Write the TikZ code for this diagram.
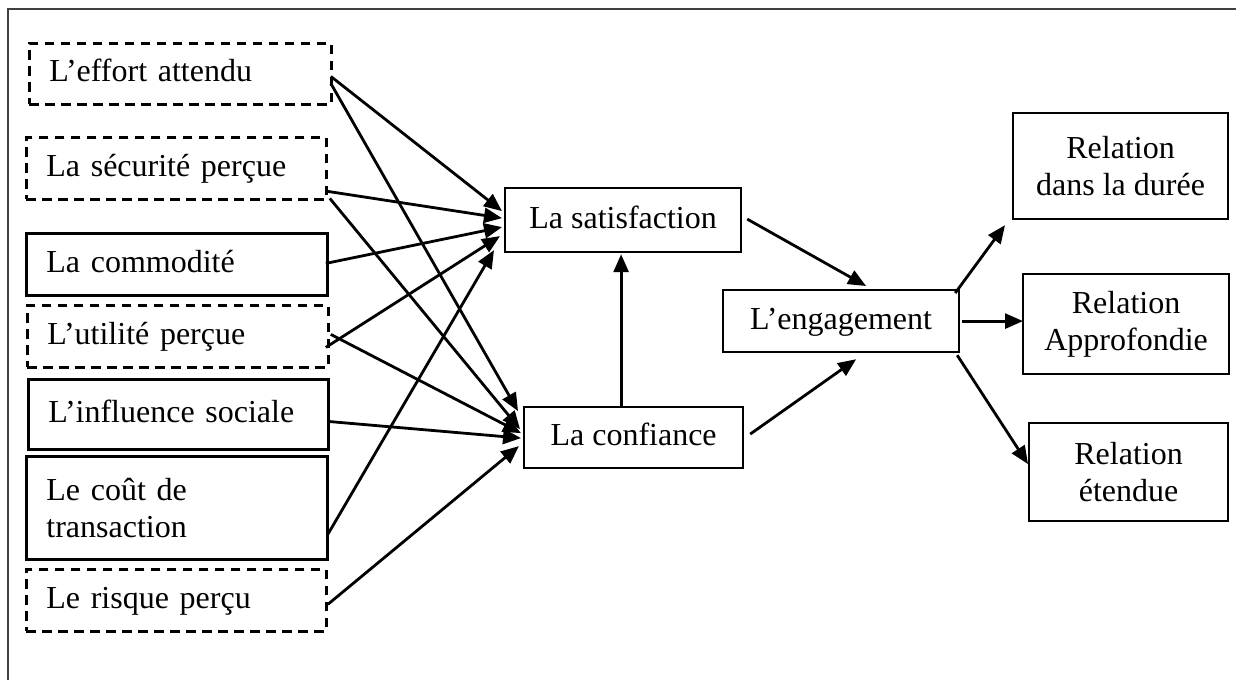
\documentclass[tikz,border=0pt]{standalone}
\usepackage{fontspec}
\setmainfont{Liberation Serif}
\usetikzlibrary{calc,arrows.meta}
\begin{document}
\begin{tikzpicture}[x=0.5pt,y=-0.5pt,
  font=\fontsize{16pt}{18.5pt}\selectfont,
  lbox/.style={draw, line width=1.4pt, anchor=north west, align=left,
    inner xsep=10pt, inner ysep=0pt},
  onel/.style={text height=12pt, text depth=4pt},
  dbox/.style={lbox, onel, dash pattern=on 4.75pt off 3.25pt},
  sbox/.style={lbox, onel},
  mbox/.style={draw, line width=1.1pt, anchor=north west, align=center,
    inner sep=0pt, text height=12pt, text depth=4pt},
  rbox/.style={draw, line width=1.1pt, anchor=north west, align=center,
    inner sep=0pt},
  arr/.style={line width=1.4pt, -{Triangle[length=9pt,width=7.5pt]}}
]
\useasboundingbox (0,0) rectangle (1236,680);
\draw[line width=0.9pt, black!75] (8,680) -- (8,9) -- (1236,9);

% left boxes
\node[dbox, text width=131pt, minimum height=30.5pt] (effort) at (28,42) {L’effort attendu};
\node[dbox, text width=130pt, minimum height=31pt] (securite) at (25,136) {La sécurité perçue};
\node[sbox, text width=130.5pt, minimum height=31pt] (commodite) at (25,232) {La commodité};
\node[dbox, text width=130.5pt, minimum height=31pt] (utilite) at (26,304) {L’utilité perçue};
\node[sbox, text width=130pt, minimum height=35pt] (influence) at (27,378) {L’influence sociale};
\node[lbox, text width=130.5pt, minimum height=51.5pt] (cout) at (25,455) {Le coût de\\transaction};
\node[dbox, text width=130pt, minimum height=31pt] (risque) at (25,568) {Le risque perçu};

% middle boxes
\node[mbox, minimum width=118pt, minimum height=32pt] (sat) at (504,187) {La satisfaction};
\node[mbox, minimum width=109.5pt, minimum height=30.5pt] (conf) at (523,406) {La confiance};
\node[mbox, minimum width=118pt, minimum height=31pt] (eng) at (722,289) {L’engagement};

% right boxes
\node[rbox, minimum width=107.5pt, minimum height=53pt] (duree) at (1012,112) {Relation\\dans la durée};
\node[rbox, minimum width=103pt, minimum height=50pt] (approf) at (1022,273) {Relation\\Approfondie};
\node[rbox, minimum width=99.5pt, minimum height=49pt] (etendue) at (1028,422) {Relation\\étendue};

% arrows into satisfaction / confiance
\draw[arr] ($(effort.east)+(-2,2.5)$) -- ($(sat.west)+(-2,-9)$);
\draw[arr] ($(effort.east)+(-2,9.5)$) -- ($(conf.west)+(-5,-26.5)$);
\draw[arr] ($(securite.east)+(0,23)$) -- ($(sat.west)+(-2,-2)$);
\draw[arr] ($(securite.east)+(2,30)$) -- ($(conf.west)+(-3,-8.5)$);
\draw[arr] ($(commodite.east)+(-3,-1)$) -- ($(sat.west)+(-2,7)$);
\draw[arr] ($(utilite.east)+(-4,11)$) -- ($(sat.west)+(-4,16)$);
\draw[arr] ($(utilite.east)+(1,-2)$) -- ($(conf.west)+(-2,-4.5)$);
\draw[arr] ($(influence.east)+(-2,7)$) -- ($(conf.west)+(-2,0.5)$);
\draw[arr] ($(cout.east)+(-1,26.5)$) -- ($(sat.west)+(-10,30)$);
\draw[arr] ($(risque.east)+(0,4)$) -- ($(conf.west)+(-4,8.5)$);

% middle arrows
\draw[arr] ($(conf.north)+(-12.5,0)$) -- ($(sat.south)+(-2,1)$);
\draw[arr] ($(sat.east)+(5,-1)$) -- ($(eng.north)+(25,-3)$);
\draw[arr] ($(conf.east)+(6,-3.5)$) -- ($(eng.south)+(15,6)$);

% arrows to relations
\draw[arr] ($(eng.north east)+(-5,4)$) -- ($(duree.south west)+(-7,5)$);
\draw[arr] ($(eng.east)+(2,0)$) -- ($(approf.west)+(1,-3)$);
\draw[arr] ($(eng.south east)+(-3,2)$) -- ($(etendue.west)+(0,-8)$);
\end{tikzpicture}
\end{document}
